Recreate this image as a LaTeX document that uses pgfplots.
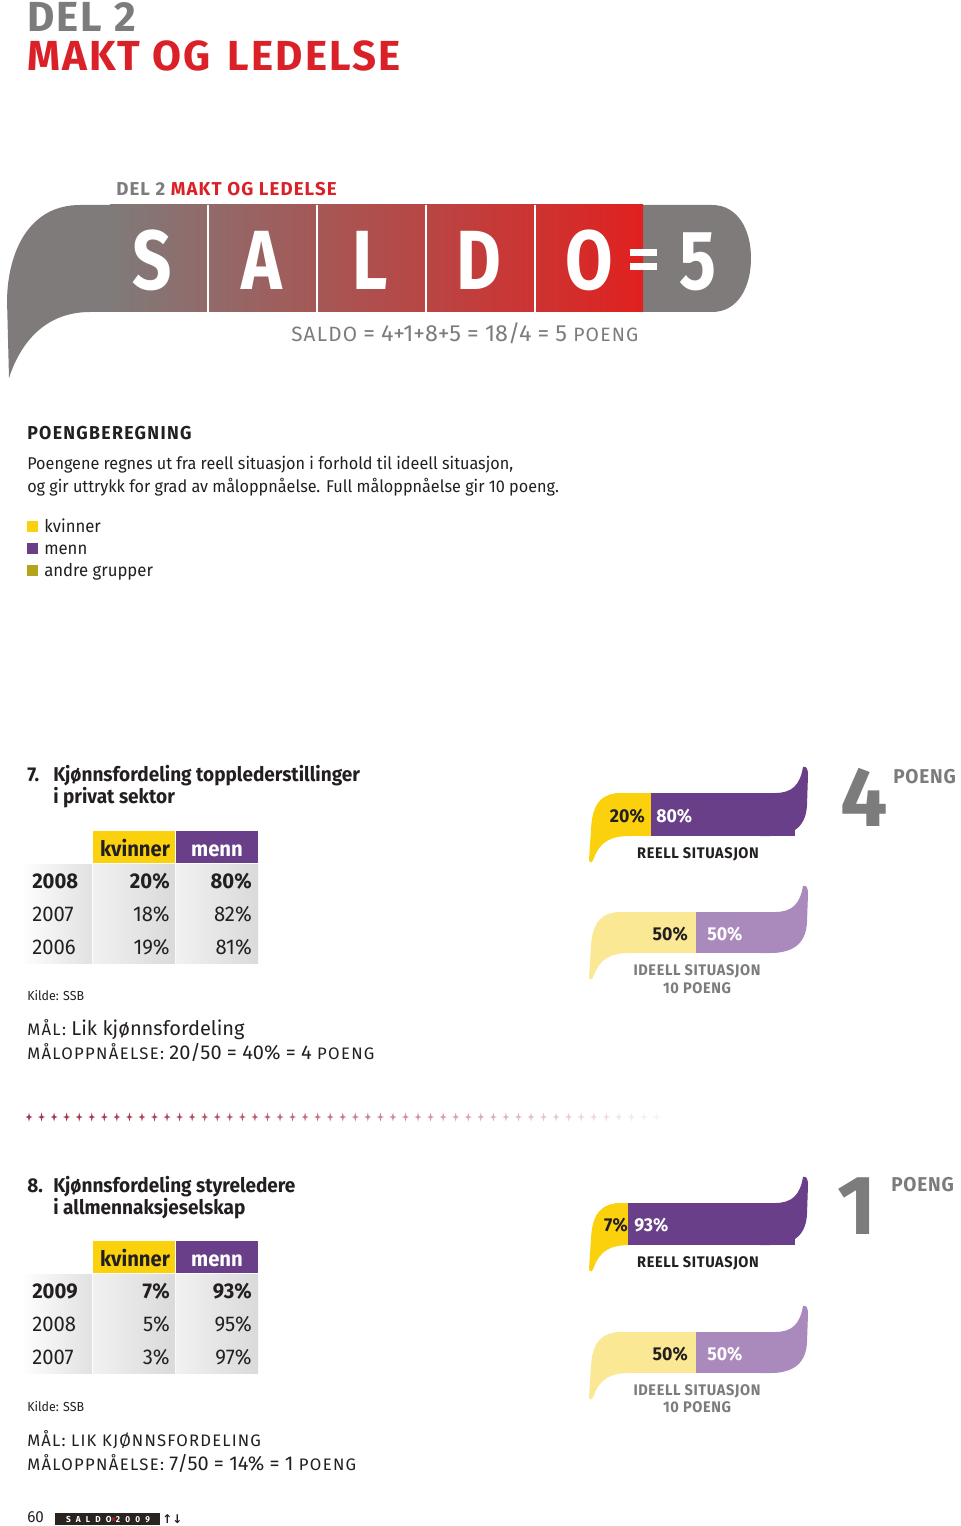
\documentclass[border=0pt]{standalone}
\usepackage{fontspec}
\setmainfont{Fira Sans}[FakeStretch=0.95]
\newfontfamily\widefont{Fira Sans}
\newfontfamily\condfont{Fira Sans}[FakeStretch=0.82]
\newfontfamily\symfont{DejaVu Sans}
\usepackage{pgfplots}
\pgfplotsset{compat=1.18}

\definecolor{kyel}{HTML}{FBD10E}
\definecolor{mpur}{HTML}{683F88}
\definecolor{kyelL}{HTML}{FBE894}
\definecolor{mpurL}{HTML}{AA89BC}
\definecolor{olive}{HTML}{B4A41C}
\definecolor{dred}{HTML}{DA2128}
\definecolor{dgray}{HTML}{7C7C7C}
\definecolor{bgray}{HTML}{7F7B7A}
\definecolor{bmid}{HTML}{B5614F}
\definecolor{bred}{HTML}{E0211F}
\definecolor{ink}{HTML}{231F20}
\definecolor{starc}{HTML}{A8324C}
\definecolor{cellL}{HTML}{F1F1F1}
\definecolor{cellD}{HTML}{DADADA}
\definecolor{foot}{HTML}{2A2420}

\newcommand\fs[1]{\fontsize{#1}{#1}\selectfont}
\newcommand\ls[1]{\addfontfeature{LetterSpace=#1}}

\pgfplotsset{barax/.style={scale only axis, hide axis, xbar stacked, xmin=0, xmax=100,
  ymin=0.5, ymax=1.5, clip=false, anchor=south west, enlargelimits=false}}

% tails of the ribbon bars: #1 top, #2 bottom, #3 left colour, #4 right colour
\newcommand\tails[4]{%
  \fill[#3] (630,#1) -- (622,#1) .. controls (600,#1) and (592,#1+12) .. (591,#2-6)
     -- (589,#2+24) .. controls (590,#2+28) and (592,#2+27) .. (594,#2+22)
     .. controls (600,#2+6) and (610,#2) .. (630,#2) -- cycle;
  \fill[#4] (760,#1) -- (775,#1) .. controls (792,#1) and (800,#1-8) .. (803,#1-26)
     .. controls (806,#1-27) and (808,#1-25) .. (808,#1-18)
     -- (807,#2-31) .. controls (806,#2-11) and (795,#2) .. (770,#2) -- (760,#2) -- cycle;
}
% table row: #1 top, #2 bottom, #3 font, #4 year, #5 kvinner, #6 menn
\newcommand\trow[6]{%
  \shade[left color=white, right color=cellD!80] (20,#1) rectangle (92,#2);
  \shade[left color=cellL, right color=cellD] (93,#1) rectangle (175,#2);
  \shade[left color=cellL, right color=cellD] (176,#1) rectangle (258,#2);
  \node[anchor=base west, inner sep=0, font=#3, text=ink] at (32,#2-9) {#4};
  \node[anchor=base east, inner sep=0, font=#3, text=ink] at (170,#2-9) {#5};
  \node[anchor=base east, inner sep=0, font=#3, text=ink] at (252,#2-9) {#6};
}
\newcommand\thead[1]{%
  \fill[kyel] (93,#1) rectangle (175,#1+32);
  \fill[mpur] (176,#1) rectangle (258,#1+32);
  \node[anchor=base, inner sep=0, font=\fs{16}\bfseries, text=ink] at (135,#1+25) {kvinner};
  \node[anchor=base, inner sep=0, font=\fs{16}\bfseries, text=white] at (217,#1+25) {menn};
}

\begin{document}
\begin{tikzpicture}[x=0.75pt,y=-0.75pt]
\path[use as bounding box] (0,0) rectangle (960,1526);
\fill[white] (0,0) rectangle (960,1526);

% ---------- header
\node[anchor=base west, inner sep=0, text=dgray, font=\widefont\fs{31.5}\bfseries\ls{5}] at (27,32) {DEL 2};
\node[anchor=base west, inner sep=0, text=dred, font=\widefont\fs{31.5}\bfseries\ls{5}] at (27,71) {MAKT OG\hspace{0.12em} LEDELSE};

% ---------- SALDO banner
\node[anchor=base west, inner sep=0, font=\widefont\fs{14}\bfseries\ls{6}] at (116,196)
  {\textcolor{dgray}{DEL 2} \textcolor{dred}{MAKT OG LEDELSE}};
\fill[bgray] (110,205) -- (80,205) .. controls (30,205) and (8,250) .. (7,300)
   -- (9,378) .. controls (18,350) and (40,312) .. (90,312) -- (110,312) -- cycle;
\fill[bgray] (600,205) -- (712,205) .. controls (738,205) and (751,230) .. (751,258)
   .. controls (751,287) and (738,312) .. (712,312) -- (600,312) -- cycle;
\shade[left color=bgray, middle color=bmid, right color=bred] (110,205) rectangle (643,312);
\foreach \sx in {208,317,426,535}{\draw[white, line width=0.9pt] (\sx,205) -- (\sx,312);}
\foreach \ch/\cx in {S/152,A/262,L/370,D/479,O/589,5/698}{
  \node[anchor=base, inner sep=0, text=white, font=\condfont\fs{63}\bfseries] at (\cx,290) {\ch};}
\fill[white] (630,249) rectangle (657,256);
\fill[white] (630,263) rectangle (657,270);
\node[anchor=base west, inner sep=0, text=dgray, font=\widefont\fs{17.5}] at (291,341)
  {{\fs{15.5}\ls{6}SALDO} = 4+1+8+5 = 18/4 = 5 {\fs{14.5}\ls{6}POENG}};

% ---------- Poengberegning
\node[anchor=base west, inner sep=0, text=ink, font=\fs{14}\bfseries\ls{7}] at (27,439) {POENGBEREGNING};
\node[anchor=base west, inner sep=0, text=ink, font=\fs{12.8}] at (27,469)
  {Poengene regnes ut fra reell situasjon i forhold til ideell situasjon,};
\node[anchor=base west, inner sep=0, text=ink, font=\fs{12.8}] at (27,492)
  {og gir uttrykk for grad av måloppnåelse. Full måloppnåelse gir 10 poeng.};
\fill[kyel] (27,521) rectangle (38,532);
\fill[mpur] (27,543) rectangle (38,554);
\fill[olive] (27,565) rectangle (38,576);
\node[anchor=base west, inner sep=0, text=ink, font=\fs{13.2}] at (44,532) {kvinner};
\node[anchor=base west, inner sep=0, text=ink, font=\fs{13.2}] at (44,554) {menn};
\node[anchor=base west, inner sep=0, text=ink, font=\fs{13.2}] at (44,576) {andre grupper};

% ---------- Section 7
\node[anchor=base west, inner sep=0, text=ink, font=\fs{15}\bfseries] at (27,781) {7.};
\node[anchor=base west, inner sep=0, text=ink, font=\fs{15}\bfseries] at (53,781) {Kjønnsfordeling topplederstillinger};
\node[anchor=base west, inner sep=0, text=ink, font=\fs{15}\bfseries] at (53,803) {i privat sektor};
\thead{831}
\trow{864}{897}{\fs{16}\bfseries}{2008}{20\%}{80\%}
\trow{898}{930}{\fs{16}}{2007}{18\%}{82\%}
\trow{931}{963}{\fs{16}}{2006}{19\%}{81\%}
\node[anchor=base west, inner sep=0, text=ink, font=\fs{9.8}] at (27,1000) {Kilde: SSB};
\node[anchor=base west, inner sep=0, text=ink, font=\widefont\fs{15}] at (27,1035)
  {{\fs{12.5}\ls{8}MÅL:} Lik kjønnsfordeling};
\node[anchor=base west, inner sep=0, text=ink, font=\widefont\fs{15}] at (27,1059)
  {{\fs{12.5}\ls{8}MÅLOPPNÅELSE:} 20/50 = 40\% = 4 {\fs{12.5}\ls{8}POENG}};

\tails{793}{836}{kyel}{mpur}
\begin{axis}[barax, at={(461.25pt,-627pt)}, width=135pt, height=32.25pt, bar width=32.25pt]
\addplot[fill=kyel, draw=none] coordinates {(20,1)};
\addplot[fill=mpur, draw=none] coordinates {(80,1)};
\end{axis}
\node[anchor=base east, inner sep=0, text=ink, font=\fs{14}\bfseries] at (645,822) {20\%};
\node[anchor=base west, inner sep=0, text=white, font=\fs{14}\bfseries] at (656,822) {80\%};
\node[anchor=base, inner sep=0, text=ink, font=\fs{11.5}\bfseries\ls{4}] at (698,858) {REELL SITUASJON};

\tails{912}{953}{kyelL}{mpurL}
\begin{axis}[barax, at={(461.25pt,-714.75pt)}, width=121.5pt, height=30.75pt, bar width=30.75pt]
\addplot[fill=kyelL, draw=none] coordinates {(50,1)};
\addplot[fill=mpurL, draw=none] coordinates {(50,1)};
\end{axis}
\node[anchor=base east, inner sep=0, text=ink, font=\fs{14}\bfseries] at (688,940) {50\%};
\node[anchor=base west, inner sep=0, text=white, font=\fs{14}\bfseries] at (707,940) {50\%};
\node[anchor=base, inner sep=0, text=dgray, font=\fs{11.5}\bfseries\ls{4}] at (697,975) {IDEELL SITUASJON};
\node[anchor=base, inner sep=0, text=dgray, font=\fs{11.5}\bfseries\ls{4}] at (697,993) {10 POENG};

\node[anchor=base west, inner sep=0, text=dgray, font=\widefont\fs{63}\bfseries] at (840,826) {4};
\node[anchor=base west, inner sep=0, text=dgray, font=\fs{15}\bfseries\ls{4}] at (893,783) {POENG};

% ---------- separator
\foreach \i in {0,...,50}{
  \pgfmathsetmacro\xx{29+12.55*\i}
  \pgfmathsetmacro\op{max(0.05,1-(\i/52)^1.4)}
  \fill[starc, opacity=\op] (\xx,1112.5) -- (\xx+0.9,1116.1) -- (\xx+3.5,1117) -- (\xx+0.9,1117.9)
     -- (\xx,1121.5) -- (\xx-0.9,1117.9) -- (\xx-3.5,1117) -- (\xx-0.9,1116.1) -- cycle;
}

% ---------- Section 8
\node[anchor=base west, inner sep=0, text=ink, font=\fs{15}\bfseries] at (27,1192) {8.};
\node[anchor=base west, inner sep=0, text=ink, font=\fs{15}\bfseries] at (53,1192) {Kjønnsfordeling styreledere};
\node[anchor=base west, inner sep=0, text=ink, font=\fs{15}\bfseries] at (53,1214) {i allmennaksjeselskap};
\thead{1241}
\trow{1274}{1307}{\fs{16}\bfseries}{2009}{7\%}{93\%}
\trow{1308}{1340}{\fs{16}}{2008}{5\%}{95\%}
\trow{1341}{1373}{\fs{16}}{2007}{3\%}{97\%}
\node[anchor=base west, inner sep=0, text=ink, font=\fs{9.8}] at (27,1411) {Kilde: SSB};
\node[anchor=base west, inner sep=0, text=ink, font=\widefont\fs{12.5}\ls{7}] at (27,1446)
  {MÅL: LIK KJØNNSFORDELING};
\node[anchor=base west, inner sep=0, text=ink, font=\widefont\fs{15}] at (27,1470)
  {{\fs{12.5}\ls{8}MÅLOPPNÅELSE:} 7/50 = 14\% = 1 {\fs{12.5}\ls{8}POENG}};

\tails{1203}{1245}{kyel}{mpur}
\begin{axis}[barax, at={(461.25pt,-933.75pt)}, width=135pt, height=31.5pt, bar width=31.5pt]
\addplot[fill=kyel, draw=none] coordinates {(7,1)};
\addplot[fill=mpur, draw=none] coordinates {(93,1)};
\end{axis}
\node[anchor=base east, inner sep=0, text=ink, font=\fs{14}\bfseries] at (628,1231) {7\%};
\node[anchor=base west, inner sep=0, text=white, font=\fs{14}\bfseries] at (634,1231) {93\%};
\node[anchor=base, inner sep=0, text=ink, font=\fs{11.5}\bfseries\ls{4}] at (698,1267) {REELL SITUASJON};

\tails{1332}{1373}{kyelL}{mpurL}
\begin{axis}[barax, at={(461.25pt,-1029.75pt)}, width=121.5pt, height=30.75pt, bar width=30.75pt]
\addplot[fill=kyelL, draw=none] coordinates {(50,1)};
\addplot[fill=mpurL, draw=none] coordinates {(50,1)};
\end{axis}
\node[anchor=base east, inner sep=0, text=ink, font=\fs{14}\bfseries] at (688,1360) {50\%};
\node[anchor=base west, inner sep=0, text=white, font=\fs{14}\bfseries] at (707,1360) {50\%};
\node[anchor=base, inner sep=0, text=dgray, font=\fs{11.5}\bfseries\ls{4}] at (697,1395) {IDEELL SITUASJON};
\node[anchor=base, inner sep=0, text=dgray, font=\fs{11.5}\bfseries\ls{4}] at (697,1412) {10 POENG};

\node[anchor=base west, inner sep=0, text=dgray, font=\widefont\fs{63}\bfseries] at (837,1234) {1};
\node[anchor=base west, inner sep=0, text=dgray, font=\fs{15}\bfseries\ls{4}] at (891,1191) {POENG};

% ---------- footer
\node[anchor=base west, inner sep=0, text=ink, font=\fs{12}] at (27,1522) {60};
\fill[foot] (55,1513) rectangle (160,1525);
\node[anchor=center, inner sep=0, text=white, font=\fs{6.5}\bfseries\ls{60}] at (108,1519.5)
  {SALDO{\color{dred}=}2009};
\node[anchor=base west, inner sep=0, text=ink, font=\symfont\fs{9}\bfseries] at (162,1523) {↑↓};
\end{tikzpicture}
\end{document}
